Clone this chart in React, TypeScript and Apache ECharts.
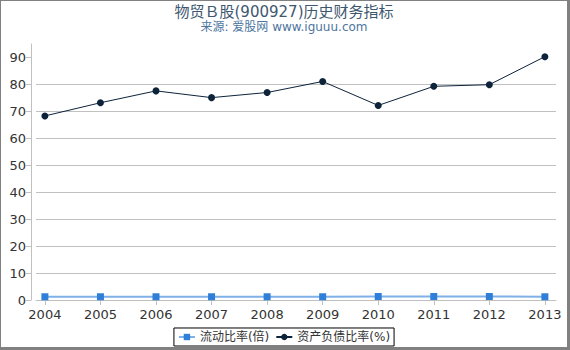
import React, { useEffect, useRef } from "react";
import * as echarts from "echarts";

const years = [2004, 2005, 2006, 2007, 2008, 2009, 2010, 2011, 2012, 2013];
const currentRatio = [1.2, 1.2, 1.2, 1.2, 1.2, 1.2, 1.3, 1.3, 1.3, 1.2];
const debtRatio = [68.3, 73.2, 77.6, 75.1, 77.0, 81.1, 72.2, 79.3, 79.9, 90.3];
const yTicks = [0, 10, 20, 30, 40, 50, 60, 70, 80, 90];

const FONT = "'DejaVu Sans', 'Noto Sans CJK SC', sans-serif";

export default function App() {
  const ref = useRef<HTMLDivElement>(null);
  useEffect(() => {
    document.body.style.margin = "0";
    const chart = echarts.init(ref.current!, null, { renderer: "svg" });
    chart.setOption({
      animation: false,
      textStyle: { fontFamily: FONT },
      title: {
        text: "物贸Ｂ股(900927)历史财务指标",
        subtext: "来源: 爱股网 www.iguuu.com",
        left: "center",
        top: -2,
        itemGap: 2,
        textStyle: { fontFamily: FONT, fontSize: 15, fontWeight: "normal", color: "#3e576f" },
        subtextStyle: { fontFamily: FONT, fontSize: 12, color: "#4d759e" },
      },
      legend: {
        bottom: 1,
        left: "center",
        borderColor: "#000",
        borderWidth: 1,
        borderRadius: 0,
        padding: [3, 4],
        itemGap: 6,
        itemWidth: 16,
        itemHeight: 8,
        textStyle: { fontFamily: FONT, fontSize: 12, color: "#333" },
        data: ["流动比率(倍)", "资产负债比率(%)"],
      },
      grid: { left: 35, right: 11, top: 43, bottom: 47 },
      xAxis: {
        type: "value",
        min: 2003.84,
        max: 2013.2,
        offset: 5,
        axisLine: { show: true, lineStyle: { color: "#c0c0c0" } },
        axisTick: { show: true, customValues: years, length: 5, lineStyle: { color: "#c0c0c0" } },
        axisLabel: {
          customValues: years,
          formatter: (v: number) => String(v),
          color: "#333",
          fontSize: 13,
          margin: 3,
          fontFamily: FONT,
        },
        splitLine: { show: false },
      },
      yAxis: {
        type: "value",
        min: 0,
        max: 95,
        interval: 10,
        offset: 5,
        axisLine: { show: true, lineStyle: { color: "#c0c0c0" } },
        axisTick: { show: true, customValues: yTicks, length: 5, lineStyle: { color: "#c0c0c0" } },
        axisLabel: {
          customValues: yTicks,
          color: "#333",
          fontSize: 13,
          margin: 5,
          fontFamily: FONT,
        },
        splitLine: { show: true, showMaxLine: false, lineStyle: { color: "#c0c0c0" } },
      },
      series: [
        {
          name: "流动比率(倍)",
          type: "line",
          data: years.map((y, i) => [y, currentRatio[i]]),
          symbol: "rect",
          symbolSize: 7,
          itemStyle: { color: "#2f7ed8" },
          lineStyle: { color: "#7fb0e8", width: 2 },
        },
        {
          name: "资产负债比率(%)",
          type: "line",
          data: years.map((y, i) => [y, debtRatio[i]]),
          symbol: "circle",
          symbolSize: 7,
          itemStyle: { color: "#0d233a" },
          lineStyle: { color: "#0d233a", width: 1 },
        },
      ],
    });
    return () => chart.dispose();
  }, []);
  return (
    <div
      style={{
        width: 570,
        height: 350,
        boxSizing: "border-box",
        borderLeft: "1px solid #808080",
        borderTop: "1px solid #808080",
        borderRight: "3px solid #808080",
        borderBottom: "3px solid #808080",
        background: "#fff",
      }}
    >
      <div ref={ref} style={{ width: 566, height: 346 }} />
    </div>
  );
}
